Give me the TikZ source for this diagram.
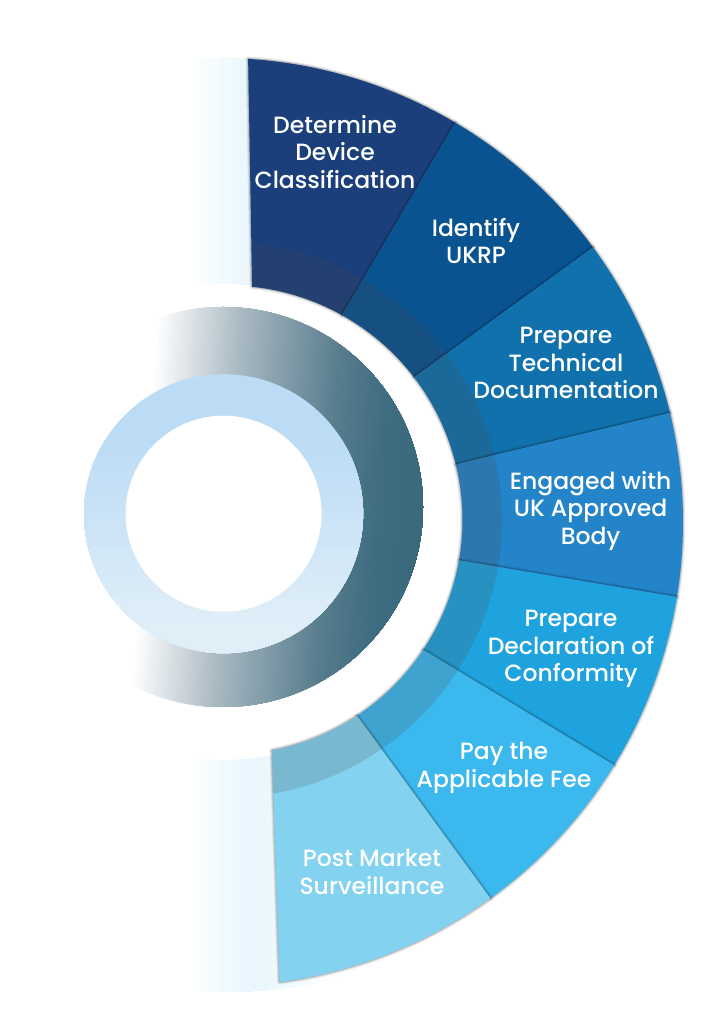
\documentclass[tikz,border=0pt]{standalone}
\usepackage{fontspec}
\setmainfont{Poppins Medium}
\usepackage{tikz}
\usetikzlibrary{calc}
\definecolor{Navy}{HTML}{1A3F7A}
\definecolor{Cobalt}{HTML}{0A5391}
\definecolor{Ocean}{HTML}{1071AD}
\definecolor{Azure}{HTML}{2384C9}
\definecolor{Cyan}{HTML}{1FA3DF}
\definecolor{Sky}{HTML}{3BB8EE}
\definecolor{Ice}{HTML}{82D2F0}
\definecolor{Pale}{HTML}{E8F6FD}
\definecolor{BandTint}{HTML}{504643}
\definecolor{RingTop}{HTML}{BCDCF5}
\definecolor{RingLow}{HTML}{E0EEF8}
\definecolor{SlateA}{HTML}{A9B9C2}
\definecolor{SlateB}{HTML}{587D8E}
\definecolor{SlateC}{HTML}{3E6C80}
\definecolor{SlateD}{HTML}{3A687C}
\newcommand{\sectorpath}[4]{%
  ($(hub)+(#1:464)$) arc[start angle=#1, end angle=#2, radius=464]
  -- ($(bore)+(#4:234.5)$) arc[start angle=#4, end angle=#3, radius=234.5]
  -- cycle%
}
\tikzset{%
  sector_label/.style={%
    text=white,%
    font={\fontsize{23.5}{27.5}\selectfont},%
    align=center,%
    inner sep=0pt,%
  },
  sector_shadow/.style={%
    draw=black,%
    line join=round,%
    opacity=0.08,%
  },
}

\begin{document}
\begin{tikzpicture}[x=1pt, y=1pt]

  \useasboundingbox (0,0) rectangle (711,1024);

  \coordinate (hub) at (219,502);
  \coordinate (bore) at (228,504);
  \coordinate (band) at (224,504);
  \coordinate (ring) at (223,517);
  \coordinate (halo) at (223.6,510.3);

  % pale backdrop behind the first and last sector
  \begin{scope}
    \clip (222,499) circle (467);
    \foreach \xa/\xb/\ca/\cb in {188/250/white/Pale, 250/340/Pale/white} {
      \foreach \t in {0,4,...,100} {
        \pgfmathsetmacro{\xt}{\xa+(\xb-\xa)/100*\t}
        \fill [\cb!\t!\ca] (\xt,0) rectangle (340,1024);
      }
    }
  \end{scope}
  \fill [white] (222,502) circle (238);

  \foreach \outA/\outB/\inA/\inB/\tone in {%
    86.4/59.4/84.1/60.9/Navy,
    59.4/36.3/60.9/37.5/Cobalt,
    36.3/13.6/37.5/13.7/Ocean,
    13.6/-9.3/13.7/-9.9/Azure,
    -9.3/-31.6/-9.9/-33.6/Cyan,
    -31.6/-54.2/-33.6/-56.6/Sky,
    -54.2/-82.5/-56.6/-79.2/Ice} {
    \foreach \spread in {1,2,3,5} {
      \draw [sector_shadow, line width=\spread, xshift=0.5, yshift=-0.5] \sectorpath{\outA}{\outB}{\inA}{\inB};
    }
    \fill [\tone] \sectorpath{\outA}{\outB}{\inA}{\inB};
    \begin{scope}
      \clip \sectorpath{\outA}{\outB}{\inA}{\inB};
      \fill [BandTint, opacity=0.18] (band) circle (278);
    \end{scope}
  }

  % rings
  \begin{scope}
    \clip (ring) circle (200);
    \foreach \xa/\xb/\ca/\cb in {143/227/white/SlateA, 227/327/SlateA/SlateB, 327/380/SlateB/SlateC, 380/423/SlateC/SlateD} {
      \foreach \t in {0,4,...,100} {
        \pgfmathsetmacro{\xt}{\xa+(\xb-\xa)/100*\t}
        \fill [\cb!\t!\ca] (\xt+14,717) -- (\xt-14,317) -- (440,317) -- (440,717) -- cycle;
      }
    }
  \end{scope}
  \begin{scope}
    \clip (halo) circle (139.5);
    \fill [RingTop] (80,360) rectangle (370,660);
    \foreach \t in {0,4,...,100} {
      \pgfmathsetmacro{\yt}{584-1.8*\t}
      \fill [RingLow!\t!RingTop] (80,360) rectangle (370,\yt);
    }
  \end{scope}
  \fill [white] (halo) circle (98);

  \node [sector_label] (determine) at (335,872) {Determine\\Device\\Classification};
  \node [sector_label] (identify) at (476,783) {Identify\\UKRP};
  \node [sector_label] (technical) at (566,661) {Prepare\\Technical\\Documentation};
  \node [sector_label] (approved) at (590.5,513) {Engaged with\\UK Approved\\Body};
  \node [sector_label] (conformity) at (571,375) {Prepare\\Declaration of\\Conformity};
  \node [sector_label] (fee) at (504,256) {Pay the\\Applicable Fee};
  \node [sector_label] (market) at (372,152) {Post Market\\Surveillance};

\end{tikzpicture}
\end{document}
